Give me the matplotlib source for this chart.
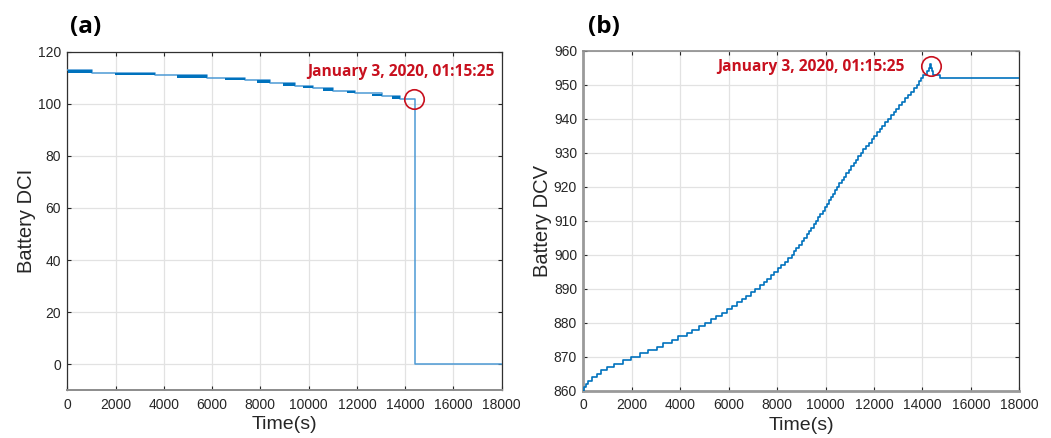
import matplotlib
matplotlib.use('Agg')
import matplotlib.pyplot as plt

# ---------------- Panel (a): Battery DCI ----------------
dci_step_times = [0, 1010, 3640, 5780, 7370, 8400, 9440, 10180, 11010, 11920, 13030, 13790, 14410, 18000]
dci_levels = [113, 112, 111, 110, 109, 108, 107, 106, 105, 104, 103, 102, 0, 0]
# bursts where the reading flickers between two adjacent levels
dci_flicker_start = [40, 1990, 4530, 6540, 7850, 8950, 9780, 10600, 11580, 12620, 13440]
dci_flicker_end = [1010, 3640, 5780, 7370, 8400, 9440, 10180, 11010, 11920, 13030, 13790]
dci_flicker_upper = [113, 112, 111, 110, 109, 108, 107, 106, 105, 104, 103]

# ---------------- Panel (b): Battery DCV ----------------
dcv_step_times = [0, 30, 100, 210, 370, 550, 730, 970, 1280, 1630,
                  1960, 2350, 2690, 3040, 3310, 3680, 3930, 4280, 4480, 4790,
                  5040, 5270, 5490, 5720, 5930, 6140, 6350, 6550, 6730, 6930,
                  7105, 7280, 7450, 7590, 7730, 7860, 8030, 8170, 8310, 8460,
                  8600, 8700, 8800, 8900, 9010, 9110, 9220, 9320, 9420, 9520,
                  9620, 9710, 9790, 9880, 9960, 10050, 10130, 10220, 10300, 10390,
                  10470, 10570, 10660, 10760, 10860, 10960, 11060, 11160, 11250, 11350,
                  11450, 11560, 11670, 11780, 11900, 12010, 12120, 12230, 12350, 12460,
                  12570, 12690, 12810, 12930, 13050, 13170, 13290, 13410, 13540, 13660,
                  13780, 13860, 13950, 14030,
                  14200, 14270, 14330, 14370, 14400, 14430, 14740, 18000]
dcv_levels = [860, 861, 862, 863, 864, 865, 866, 867, 868, 869,
              870, 871, 872, 873, 874, 875, 876, 877, 878, 879,
              880, 881, 882, 883, 884, 885, 886, 887, 888, 889,
              890, 891, 892, 893, 894, 895, 896, 897, 898, 899,
              900, 901, 902, 903, 904, 905, 906, 907, 908, 909,
              910, 911, 912, 913, 914, 915, 916, 917, 918, 919,
              920, 921, 922, 923, 924, 925, 926, 927, 928, 929,
              930, 931, 932, 933, 934, 935, 936, 937, 938, 939,
              940, 941, 942, 943, 944, 945, 946, 947, 948, 949,
              950, 951, 952, 953,
              954, 955, 956, 955, 954, 953, 952, 952]

event_label = "January 3, 2020, 01:15:25"
event_a = (14350, 101.8)
event_b = (14350, 955.5)

x_ticks = [0, 2000, 4000, 6000, 8000, 10000, 12000, 14000, 16000, 18000]
dci_ticks = [0, 20, 40, 60, 80, 100, 120]
dcv_ticks = [860, 870, 880, 890, 900, 910, 920, 930, 940, 950, 960]

LINE = '#0072BD'
LIGHT = '#4d9ad4'
RED = '#c8101e'
TXT = '#262626'

plt.rcParams['font.family'] = ['Liberation Sans', 'DejaVu Sans']

fig = plt.figure(figsize=(10.51, 4.38), dpi=100)
ax_a = fig.add_axes([67.3 / 1051, 47.7 / 438, 434.4 / 1051, 338.6 / 438])
ax_b = fig.add_axes([583.3 / 1051, 47.3 / 438, 436.0 / 1051, 340.0 / 438])


def style(ax, yticks, ylim, ylabel, spine_cfg):
    ax.set_xlim(0, 18000)
    ax.set_ylim(*ylim)
    ax.set_xticks(x_ticks)
    ax.set_xticklabels([str(t) for t in x_ticks])
    ax.set_yticks(yticks)
    ax.set_yticklabels([str(t) for t in yticks])
    ax.grid(True, color='#e2e2e2', linewidth=0.9)
    ax.set_axisbelow(True)
    ax.tick_params(direction='in', length=3.2, width=0.8, colors=TXT,
                   labelsize=10, top=True, right=True)
    ax.tick_params(axis='x', pad=5.5)
    ax.tick_params(axis='y', pad=4.5)
    ax.set_xlabel('Time(s)', fontsize=14, color=TXT, labelpad=3)
    ax.set_ylabel(ylabel, fontsize=14.5, color=TXT, labelpad=1.5)
    for side, (c, lw) in spine_cfg.items():
        ax.spines[side].set_color(c)
        ax.spines[side].set_linewidth(lw)


# ---- panel a ----
style(ax_a, dci_ticks, (-10, 120), 'Battery DCI',
      {'left': ('#303030', 0.9), 'top': ('#303030', 0.9),
       'right': ('#303030', 0.9), 'bottom': ('#8c8c8c', 1.4)})
ax_a.step(dci_step_times, dci_levels, where='post', color=LIGHT, linewidth=1.1, zorder=3)
for s, e, u in zip(dci_flicker_start, dci_flicker_end, dci_flicker_upper):
    ax_a.fill_between([s, e], [u - 1, u - 1], [u - 0.05, u - 0.05],
                      color=LINE, linewidth=0, zorder=4)
ax_a.plot([event_a[0]], [event_a[1]], marker='o', markersize=14, markerfacecolor='none',
          markeredgecolor=RED, markeredgewidth=1.2, zorder=5)
ax_a.text(17720, 112.3, event_label, color=RED, fontsize=11.2, fontweight='bold',
          family=['Open Sans', 'DejaVu Sans'], ha='right', va='center', zorder=6)

# ---- panel b ----
style(ax_b, dcv_ticks, (860, 960), 'Battery DCV',
      {'left': ('#9a9a9a', 2.0), 'top': ('#8c8c8c', 1.2),
       'right': ('#303030', 0.9), 'bottom': ('#9a9a9a', 2.0)})
ax_b.step(dcv_step_times, dcv_levels, where='post', color=LINE, linewidth=1.2, zorder=3)
ax_b.plot([event_b[0]], [event_b[1]], marker='o', markersize=14, markerfacecolor='none',
          markeredgecolor=RED, markeredgewidth=1.2, zorder=5)
ax_b.text(13280, 955.3, event_label, color=RED, fontsize=11.2, fontweight='bold',
          family=['Open Sans', 'DejaVu Sans'], ha='right', va='center', zorder=6)

# panel letters
fig.text(70 / 1051, 1 - 27 / 438, '(a)', fontsize=17.5, fontweight='bold', color='black',
         family=['Open Sans', 'DejaVu Sans'], ha='left', va='center')
fig.text(588 / 1051, 1 - 27 / 438, '(b)', fontsize=17.5, fontweight='bold', color='black',
         family=['Open Sans', 'DejaVu Sans'], ha='left', va='center')

fig.savefig('out.png', dpi=100)
